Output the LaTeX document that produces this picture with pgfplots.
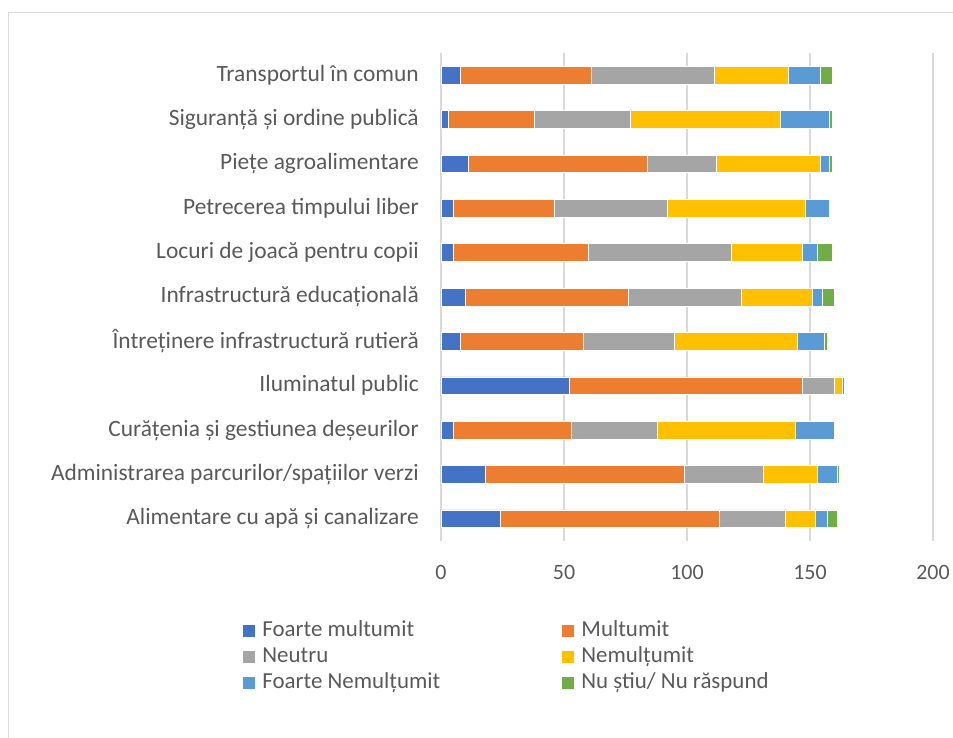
\documentclass[border=0pt]{standalone}
\usepackage{fontspec}
\setmainfont{Carlito}
\usepackage{pgfplots}
\usepackage{pgfplotstable}
\pgfplotsset{compat=1.18}

\definecolor{cFM}{HTML}{4472C4}
\definecolor{cM}{HTML}{ED7D31}
\definecolor{cN}{HTML}{A5A5A5}
\definecolor{cNM}{HTML}{FFC000}
\definecolor{cFNM}{HTML}{5B9BD5}
\definecolor{cNS}{HTML}{70AD47}
\definecolor{txtgray}{HTML}{595959}
\definecolor{linegray}{HTML}{D9D9D9}

% y: 0 = bottom category, 10 = top category
\pgfplotstableread{
y  fm  m   n   nm  fnm ns
0  24  89  27  12  5   4
1  18  81  32  22  8   1
2  5   48  35  56  16  0
3  52  95  13  3   1   0
4  8   50  37  50  11  1
5  10  66  46  29  4   5
6  5   55  58  29  6   6
7  5   41  46  56  10  0
8  11  73  28  42  4   1
9  3   35  39  61  20  1
10 8   53  50  30  13  5
}\servicii

\begin{document}
\begin{tikzpicture}
\useasboundingbox (0,0) rectangle (953bp,738bp);
\draw[linegray, line width=1bp] (8.5bp,0) -- (8.5bp,725.5bp) -- (953bp,725.5bp);
\begin{axis}[
    at={(441bp,197bp)}, anchor=south west,
    scale only axis,
    width=492bp, height=488bp,
    xbar stacked,
    bar width=0.4,
    xmin=0, xmax=200,
    ymin=-0.5, ymax=10.5,
    xtick={0,50,100,150,200},
    ytick={0,...,10},
    yticklabels={
        Alimentare cu apă și canalizare,
        Administrarea parcurilor/spațiilor verzi,
        Curățenia și gestiunea deșeurilor,
        Iluminatul public,
        Întreținere infrastructură rutieră,
        Infrastructură educațională,
        Locuri de joacă pentru copii,
        Petrecerea timpului liber,
        Piețe agroalimentare,
        Siguranță și ordine publică,
        Transportul în comun},
    axis line style={draw=none},
    major tick length=0pt,
    xmajorgrids=true, ymajorgrids=false,
    grid style={draw=linegray, line width=1.5bp},
    /pgf/number format/assume math mode=true,
    yticklabel style={font=\fontsize{23.5}{27}\selectfont, text=txtgray,
        anchor=east, inner sep=0pt, xshift=-22bp},
    xticklabel style={font=\fontsize{22}{26}\selectfont, text=txtgray,
        anchor=north, inner sep=0pt, yshift=-24bp},
    legend columns=2,
    legend cell align=left,
    legend image code/.code={\fill[#1,draw=none] (0bp,-6bp) rectangle (12bp,6bp);},
    legend style={
        at={(-0.402,-0.160)}, anchor=north west,
        draw=none, fill=none, inner sep=0pt,
        font=\fontsize{23}{27}\selectfont, text=txtgray,
        nodes={inner sep=1bp, text height=16bp, text depth=5bp},
        row sep=3bp,
        /tikz/every odd column/.append style={column sep=6bp},
        /tikz/every even column/.append style={column sep=121bp},
    },
]
\addplot[fill=cFM,  draw=white, line width=0.6bp] table[x=fm,  y=y] {\servicii};
\addplot[fill=cM,   draw=white, line width=0.6bp] table[x=m,   y=y] {\servicii};
\addplot[fill=cN,   draw=white, line width=0.6bp] table[x=n,   y=y] {\servicii};
\addplot[fill=cNM,  draw=white, line width=0.6bp] table[x=nm,  y=y] {\servicii};
\addplot[fill=cFNM, draw=white, line width=0.6bp] table[x=fnm, y=y] {\servicii};
\addplot[fill=cNS,  draw=white, line width=0.6bp] table[x=ns,  y=y] {\servicii};
\legend{Foarte multumit, Multumit, Neutru, Nemulțumit, Foarte Nemulțumit, Nu știu/ Nu răspund}
\end{axis}
\end{tikzpicture}
\end{document}
